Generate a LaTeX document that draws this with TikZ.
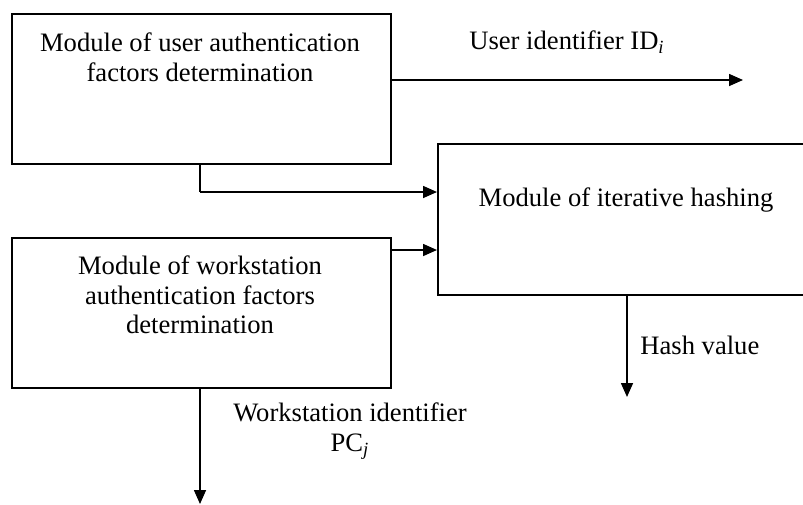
\documentclass[tikz,border=0pt]{standalone}
\usepackage{fontspec}
\setmainfont{Liberation Serif}
\usetikzlibrary{arrows.meta}
\begin{document}
\begin{tikzpicture}[x=0.5pt,y=-0.5pt,
  box/.style={draw,line width=0.8pt,inner sep=0pt},
  txt/.style={font=\fontsize{13.3pt}{14.8pt}\selectfont,align=center,inner sep=0pt},
  conn/.style={line width=0.8pt},
  arr/.style={line width=0.8pt,-{Triangle[length=7pt,width=6pt]}}]
\useasboundingbox (0,0) rectangle (803,504);
% boxes
\node[box,minimum width=189.5pt,minimum height=75pt,anchor=north west] (user) at (11,13) {};
\node[box,minimum width=189.5pt,minimum height=75pt,anchor=north west] (ws) at (11,237) {};
\node[box,minimum width=185pt,minimum height=75.5pt,anchor=north west] (hash) at (437,143) {};
% texts
\node[txt] (usert) at (200,57) {Module of user authentication\\factors determination};
\node[txt] (wst) at (200,295) {Module of workstation\\authentication factors\\determination};
\node[txt] (hasht) at (626,200) {Module of iterative hashing};
\node[txt] (idl) at (567,42) {User identifier ID\textsubscript{\textit{i}}};
\node[txt,anchor=west] (hvl) at (640,345) {Hash value};
\node[txt] (pcl) at (350,431) {Workstation identifier\\PC\textsubscript{\textit{j}}};
% free ends
\coordinate (idend) at (743,80);
\coordinate (hvend) at (627,397);
\coordinate (pcend) at (200,504);
\coordinate (ubend) at (200,192);
% connectors
\draw[arr] (user.east |- idend) -- (idend);
\draw[conn] (user.south -| ubend) -- (ubend);
\draw[arr] (ubend) -- (hash.west |- ubend);
\draw[arr] (ws.east |- 0,250) -- (hash.west |- 0,250);
\draw[arr] (hash.south -| hvend) -- (hvend);
\draw[arr] (ws.south -| pcend) -- (pcend);
\end{tikzpicture}
\end{document}
